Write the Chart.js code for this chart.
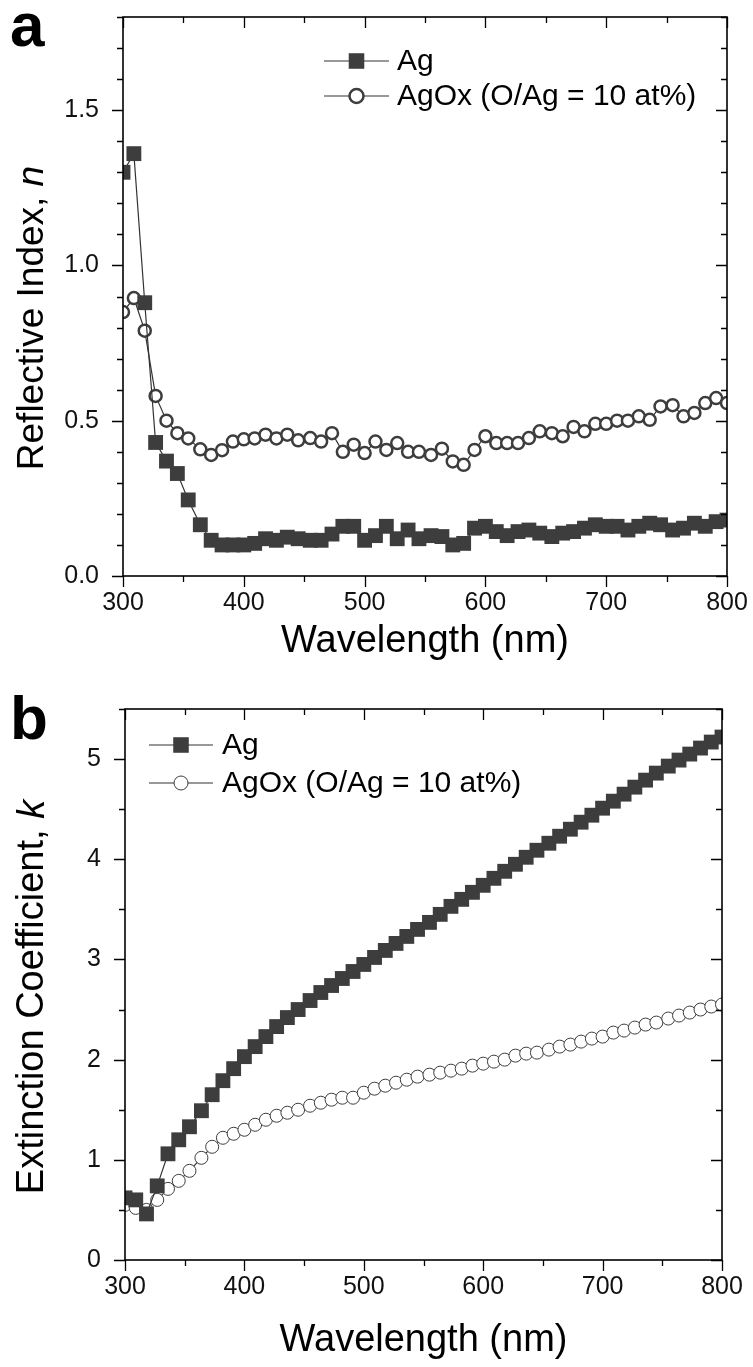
<!DOCTYPE html>
<html>
<head>
<meta charset="utf-8">
<script src="https://cdn.jsdelivr.net/npm/chart.js@4.4.1/dist/chart.umd.min.js"></script>
<style>
  html, body { margin: 0; padding: 0; background: #fff; }
  #page { position: relative; width: 753px; height: 1367px; overflow: hidden; }
  .panel { position: absolute; left: 0; width: 753px; }
  .tag { position: absolute; left: 10px; line-height: 62px; font: bold 62px "Liberation Sans", Arial, sans-serif; color: #000; }
</style>
</head>
<body>
<div id="page">
  <div class="panel" style="top:0;height:680px"><canvas id="chartN"></canvas></div>
  <div class="panel" style="top:680px;height:687px"><canvas id="chartK"></canvas></div>
  <div class="tag" style="top:-11px">a</div>
  <div class="tag" style="top:682px">b</div>
</div>

<script>
// ---- data ----
const wavelength = [
    300, 309, 318, 327, 336, 345, 354, 364, 373, 382,
    391, 400, 409, 418, 427, 436, 445, 455, 464, 473,
    482, 491, 500, 509, 518, 527, 536, 545, 555, 564,
    573, 582, 591, 600, 609, 618, 627, 636, 645, 655,
    664, 673, 682, 691, 700, 709, 718, 727, 736, 745,
    755, 764, 773, 782, 791, 800
];

// refractive index n
const nAg = [
    1.30, 1.36, 0.88, 0.43, 0.37, 0.33, 0.245, 0.165, 0.115, 0.10,
    0.10, 0.10, 0.105, 0.12, 0.115, 0.125, 0.12, 0.115, 0.115, 0.135,
    0.16, 0.16, 0.115, 0.13, 0.16, 0.12, 0.148, 0.12, 0.13, 0.127,
    0.10, 0.105, 0.154, 0.16, 0.143, 0.13, 0.143, 0.148, 0.138, 0.127,
    0.138, 0.143, 0.154, 0.165, 0.16, 0.16, 0.148, 0.16, 0.17, 0.165,
    0.148, 0.154, 0.17, 0.16, 0.175, 0.18
];
const nAgOx = [
    0.85, 0.895, 0.79, 0.58, 0.50, 0.46, 0.443, 0.408, 0.39, 0.405,
    0.433, 0.44, 0.443, 0.455, 0.443, 0.455, 0.437, 0.444, 0.433, 0.46,
    0.40, 0.423, 0.396, 0.433, 0.406, 0.428, 0.40, 0.40, 0.39, 0.41,
    0.369, 0.358, 0.406, 0.45, 0.428, 0.428, 0.428, 0.444, 0.466, 0.46,
    0.45, 0.48, 0.466, 0.49, 0.49, 0.50, 0.50, 0.514, 0.503, 0.546,
    0.55, 0.514, 0.525, 0.557, 0.573, 0.557
];

// extinction coefficient k
const kAg = [
    0.62, 0.60, 0.46, 0.74, 1.06, 1.20, 1.33, 1.49, 1.65, 1.79,
    1.91, 2.03, 2.13, 2.23, 2.33, 2.42, 2.50, 2.59, 2.67, 2.74,
    2.81, 2.88, 2.95, 3.02, 3.09, 3.16, 3.23, 3.30, 3.37, 3.45,
    3.53, 3.60, 3.67, 3.74, 3.81, 3.88, 3.95, 4.02, 4.09, 4.16,
    4.23, 4.30, 4.37, 4.44, 4.51, 4.58, 4.65, 4.72, 4.79, 4.86,
    4.93, 4.99, 5.05, 5.11, 5.17, 5.22
];
const kAgOx = [
    0.55, 0.52, 0.50, 0.60, 0.71, 0.79, 0.89, 1.02, 1.13, 1.22,
    1.26, 1.30, 1.35, 1.40, 1.44, 1.47, 1.50, 1.54, 1.57, 1.60,
    1.62, 1.62, 1.67, 1.71, 1.74, 1.77, 1.80, 1.83, 1.85, 1.87,
    1.89, 1.91, 1.94, 1.96, 1.98, 2.00, 2.04, 2.06, 2.07, 2.10,
    2.13, 2.15, 2.18, 2.21, 2.23, 2.27, 2.29, 2.32, 2.35, 2.37,
    2.41, 2.44, 2.47, 2.50, 2.53, 2.55
];

const seriesLabels = ["Ag", "AgOx (O/Ag = 10 at%)"];
const xTitle = "Wavelength (nm)";
const nTitle = ["Reflective Index, ", "n"];
const kTitle = ["Extinction Coefficient, ", "k"];

const FONT = '"Liberation Sans", Arial, sans-serif';
const INK = "#3d3d3d";

// box frame with ticks: out on left/bottom, in on top/right
const frameTicks = {
    id: "frameTicks",
    afterDraw(chart, args, o) {
        const { ctx, chartArea: a } = chart;
        const xs = chart.scales.x;
        const ys = chart.scales.y;
        const isMajor = (v, step) => Math.abs(v / step - Math.round(v / step)) < 1e-6;
        ctx.save();
        ctx.strokeStyle = "#000";
        ctx.lineWidth = 1.6;
        ctx.strokeRect(a.left, a.top, a.right - a.left, a.bottom - a.top);
        ctx.lineWidth = 1.3;
        ctx.beginPath();
        xs.ticks.forEach((t) => {
            const px = Math.round(xs.getPixelForValue(t.value)) + 0.5;
            const len = isMajor(t.value, o.xMajor) ? o.major : o.minor;
            ctx.moveTo(px, a.bottom);
            ctx.lineTo(px, a.bottom + len);
            ctx.moveTo(px, a.top);
            ctx.lineTo(px, a.top + len);
        });
        ys.ticks.forEach((t) => {
            const py = Math.round(ys.getPixelForValue(t.value)) + 0.5;
            const len = isMajor(t.value, o.yMajor) ? o.major : o.minor;
            ctx.moveTo(a.left, py);
            ctx.lineTo(a.left - len, py);
            ctx.moveTo(a.right, py);
            ctx.lineTo(a.right - len, py);
        });
        ctx.stroke();
        ctx.restore();
    },
};

// rotated y title with an italic symbol at the end
const yTitle = {
    id: "yTitle",
    afterDraw(chart, args, o) {
        const ctx = chart.ctx;
        ctx.save();
        ctx.translate(o.x, o.y);
        ctx.rotate(-Math.PI / 2);
        ctx.fillStyle = "#000";
        ctx.textBaseline = "middle";
        ctx.font = `${o.size}px ${FONT}`;
        const w1 = ctx.measureText(o.text[0]).width;
        ctx.font = `italic ${o.size}px ${FONT}`;
        const w2 = ctx.measureText(o.text[1]).width;
        const x = -(w1 + w2) / 2;
        ctx.font = `${o.size}px ${FONT}`;
        ctx.fillText(o.text[0], x, 0);
        ctx.font = `italic ${o.size}px ${FONT}`;
        ctx.fillText(o.text[1], x + w1, 0);
        ctx.restore();
    },
};

// legend: short line with the marker on it, then the label
const lineLegend = {
    id: "lineLegend",
    afterDraw(chart, args, o) {
        const ctx = chart.ctx;
        ctx.save();
        chart.data.datasets.forEach((ds, i) => {
            const y = o.rows[i];
            ctx.strokeStyle = ds.borderColor;
            ctx.lineWidth = ds.borderWidth;
            ctx.beginPath();
            ctx.moveTo(o.x0, y);
            ctx.lineTo(o.x1, y);
            ctx.stroke();
            ctx.fillStyle = ds.pointBackgroundColor;
            ctx.strokeStyle = ds.pointBorderColor || ds.borderColor;
            ctx.lineWidth = ds.pointBorderWidth;
            Chart.helpers.drawPoint(ctx, {
                pointStyle: ds.pointStyle,
                radius: ds.pointStyle === "rect" ? o.rectRadius : o.circleRadius,
                borderWidth: ds.pointBorderWidth,
                rotation: 0,
            }, (o.x0 + o.x1) / 2, y);
            ctx.fillStyle = "#000";
            ctx.font = `${o.size}px ${FONT}`;
            ctx.textBaseline = "middle";
            ctx.fillText(ds.label, o.textX, y + 1);
        });
        ctx.restore();
    },
};

function pairs(ys) {
    return wavelength.map((w, i) => ({ x: w, y: ys[i] }));
}

function makeChart(id, cfg) {
    return new Chart(document.getElementById(id), {
        type: "line",
        data: {
            datasets: [
                {
                    label: seriesLabels[0],
                    data: pairs(cfg.ag),
                    borderColor: "#333",
                    borderWidth: 1.2,
                    pointStyle: "rect",
                    pointRadius: cfg.rectRadius,
                    pointBackgroundColor: INK,
                    pointBorderColor: INK,
                    pointBorderWidth: 0,
                },
                {
                    label: seriesLabels[1],
                    data: pairs(cfg.agox),
                    borderColor: "#333",
                    borderWidth: 1.2,
                    pointStyle: "circle",
                    pointRadius: cfg.circleRadius,
                    pointBackgroundColor: "#fff",
                    pointBorderColor: INK,
                    pointBorderWidth: cfg.circleBorder,
                },
            ],
        },
        options: {
            responsive: true,
            maintainAspectRatio: false,
            animation: false,
            layout: { padding: cfg.padding },
            plugins: {
                legend: { display: false },
                tooltip: { enabled: false },
                frameTicks: { xMajor: 100, yMajor: cfg.yMajor, major: 11, minor: 6 },
                yTitle: cfg.yTitle,
                lineLegend: cfg.legend,
            },
            scales: {
                x: {
                    type: "linear",
                    min: 300,
                    max: 800,
                    grid: { display: false, drawTicks: false },
                    border: { display: false },
                    ticks: {
                        stepSize: 50,
                        autoSkip: false,
                        maxRotation: 0,
                        padding: 12,
                        color: "#111",
                        font: { family: FONT, size: 25 },
                        callback: (v) => (v % 100 === 0 ? String(v) : ""),
                    },
                    title: {
                        display: true,
                        text: xTitle,
                        color: "#000",
                        font: { family: FONT, size: 38 },
                        padding: { top: 0, bottom: cfg.xTitlePad },
                    },
                    afterFit: (s) => {
                        s.height = cfg.xHeight;
                        s.paddingLeft = 0;
                        s.paddingRight = 0;
                    },
                },
                y: {
                    min: 0,
                    max: cfg.yMax,
                    grid: { display: false, drawTicks: false },
                    border: { display: false },
                    ticks: {
                        stepSize: cfg.yStep,
                        autoSkip: false,
                        padding: 24,
                        color: "#111",
                        font: { family: FONT, size: 25 },
                        callback: cfg.yLabel,
                    },
                    afterFit: (s) => {
                        s.width = cfg.yWidth;
                        s.paddingTop = 0;
                        s.paddingBottom = 0;
                    },
                },
            },
        },
        plugins: [frameTicks, yTitle, lineLegend],
    });
}

// panel a: refractive index
makeChart("chartN", {
    ag: nAg,
    agox: nAgOx,
    rectRadius: 10.5,
    circleRadius: 6,
    circleBorder: 2.5,
    padding: { left: 0, right: 26, top: 17, bottom: 0 },
    yMax: 1.8,
    yStep: 0.1,
    yMajor: 0.5,
    yLabel: (v) => (Math.round(v * 10) % 5 === 0 ? v.toFixed(1) : ""),
    yWidth: 123,
    xHeight: 104,
    xTitlePad: 16,
    yTitle: { x: 33, y: 318, size: 37, text: nTitle },
    legend: { x0: 324, x1: 389, textX: 397, rows: [61, 96], size: 30, rectRadius: 11, circleRadius: 7 },
});

// panel b: extinction coefficient
makeChart("chartK", {
    ag: kAg,
    agox: kAgOx,
    rectRadius: 10.5,
    circleRadius: 6.5,
    circleBorder: 1,
    padding: { left: 0, right: 31, top: 29, bottom: 0 },
    yMax: 5.5,
    yStep: 0.5,
    yMajor: 1,
    yLabel: (v) => (Math.abs(v - Math.round(v)) < 1e-6 ? String(Math.round(v)) : ""),
    yWidth: 125,
    xHeight: 107,
    xTitlePad: 4,
    yTitle: { x: 33, y: 317, size: 38, text: kTitle },
    legend: { x0: 149, x1: 213, textX: 222, rows: [65, 103], size: 30, rectRadius: 11, circleRadius: 7 },
});
</script>
</body>
</html>
